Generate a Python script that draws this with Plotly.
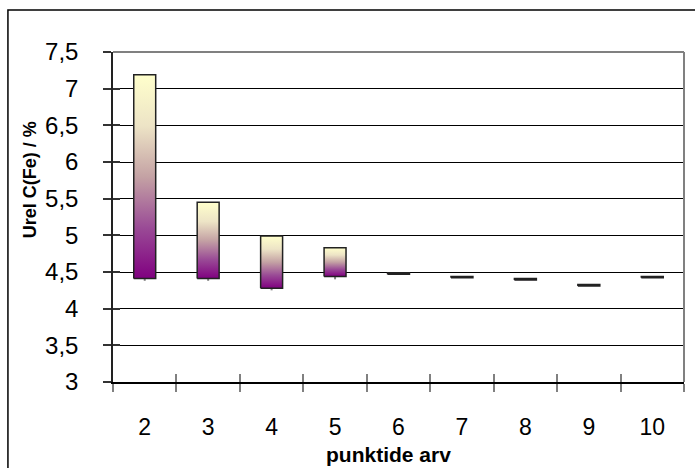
import plotly.graph_objects as go

# Number of points used in the calibration and the resulting relative uncertainty
points = ["2", "3", "4", "5", "6", "7", "8", "9", "10"]
box_bottom = [4.41, 4.41, 4.28, 4.44, 4.47, 4.42, 4.39, 4.31, 4.42]
box_top = [7.19, 5.45, 4.99, 4.83, 4.49, 4.44, 4.41, 4.33, 4.44]
low = [4.38, 4.38, 4.25, 4.40, 4.47, 4.42, 4.39, 4.31, 4.42]
y_ticks = [3, 3.5, 4, 4.5, 5, 5.5, 6, 6.5, 7, 7.5]

FONT = "Liberation Sans, Arial, sans-serif"
BOX_HALF = 0.173
GRADIENT = [[0.0, "#800080"], [0.25, "#9A4B96"], [0.5, "#C4A2A4"],
            [0.75, "#EDE4C6"], [1.0, "#FFFFCC"]]

pos = list(range(len(points)))
x_range = [-0.5, len(points) - 0.5]
boundaries = [p - 0.5 for p in pos] + [len(points) - 0.5]

fig = go.Figure()

# low whiskers below the boxes
wx, wy = [], []
for i, (lo, b) in enumerate(zip(low, box_bottom)):
    if lo < b:
        wx += [pos[i], pos[i], None]
        wy += [lo, b, None]
fig.add_trace(go.Scatter(x=wx, y=wy, mode="lines",
                         line=dict(color="#808080", width=2),
                         hoverinfo="skip", showlegend=False))

# gradient-filled floating boxes
for i, (b, t) in enumerate(zip(box_bottom, box_top)):
    x0, x1 = pos[i] - BOX_HALF, pos[i] + BOX_HALF
    fig.add_trace(go.Scatter(
        x=[x0, x1, x1, x0, x0], y=[b, b, t, t, b],
        mode="lines", fill="toself",
        fillgradient=dict(type="vertical", colorscale=GRADIENT),
        line=dict(color="#222222", width=1.5),
        hoverinfo="skip", showlegend=False))

# helper traces so that the overlaid axes are drawn
fig.add_trace(go.Scatter(x=[pos[0]], y=[y_ticks[0]], xaxis="x2", yaxis="y2",
                         mode="markers", marker=dict(opacity=0),
                         hoverinfo="skip", showlegend=False))
fig.add_trace(go.Scatter(x=[pos[0]], y=[y_ticks[0]], xaxis="x3", yaxis="y",
                         mode="markers", marker=dict(opacity=0),
                         hoverinfo="skip", showlegend=False))

fig.update_layout(
    width=695, height=468,
    margin=dict(l=113, r=11, t=52, b=86),
    paper_bgcolor="white", plot_bgcolor="white",
    separators=", ",
    font=dict(family=FONT, color="black", size=23),
    xaxis=dict(range=x_range, tickmode="array", tickvals=boundaries,
               ticks="outside", ticklen=8, tickwidth=2, tickcolor="#808080",
               showticklabels=False, showgrid=False, zeroline=False,
               showline=True, linecolor="#000000", linewidth=1.5),
    xaxis2=dict(range=x_range, overlaying="x", anchor="y", side="bottom",
                tickmode="array", tickvals=boundaries,
                ticks="inside", ticklen=8, tickwidth=2, tickcolor="#808080",
                showticklabels=False, showgrid=False, zeroline=False,
                showline=False),
    xaxis3=dict(range=x_range, overlaying="x", anchor="y", side="bottom",
                tickmode="array", tickvals=pos, ticktext=points,
                ticks="", ticklabelstandoff=29,
                tickfont=dict(size=23, family=FONT),
                showgrid=False, zeroline=False, showline=False),
    yaxis=dict(range=[y_ticks[0], y_ticks[-1]], tickmode="array",
               tickvals=y_ticks, ticks="outside", ticklen=8, tickwidth=1.5,
               tickcolor="#333333", ticklabelstandoff=20,
               tickfont=dict(size=24, family=FONT),
               showgrid=True, gridcolor="#000000", gridwidth=1,
               zeroline=False, showline=True, linecolor="#222222",
               linewidth=1.5),
    yaxis2=dict(range=[y_ticks[0], y_ticks[-1]], overlaying="y", anchor="x",
                side="left", tickmode="array", tickvals=y_ticks,
                ticks="inside", ticklen=7, tickwidth=1.5, tickcolor="#333333",
                showticklabels=False, showgrid=False, zeroline=False,
                showline=False),
    shapes=[
        # plot area frame (top and right)
        dict(type="line", xref="paper", yref="paper", x0=0, x1=1, y0=1, y1=1,
             line=dict(color="#808080", width=2), layer="above"),
        dict(type="line", xref="paper", yref="paper", x0=1, x1=1, y0=0, y1=1,
             line=dict(color="#808080", width=2), layer="above"),
        # chart border
        dict(type="rect", xref="paper", yref="paper",
             x0=-0.184, x1=1.05, y0=-0.4, y1=1.127,
             line=dict(color="#000000", width=1.5), fillcolor="rgba(0,0,0,0)"),
    ],
    annotations=[
        dict(text="<b>Urel C(Fe) / %</b>", xref="paper", yref="paper",
             x=-0.145, y=0.612, textangle=-90, showarrow=False,
             font=dict(size=18, family=FONT), xanchor="center",
             yanchor="middle"),
        dict(text="<b>punktide arv</b>", xref="paper", yref="paper",
             x=0.483, y=-0.262, showarrow=False,
             font=dict(size=21, family=FONT), xanchor="center",
             yanchor="bottom"),
    ],
)

fig.write_html("out.html")
